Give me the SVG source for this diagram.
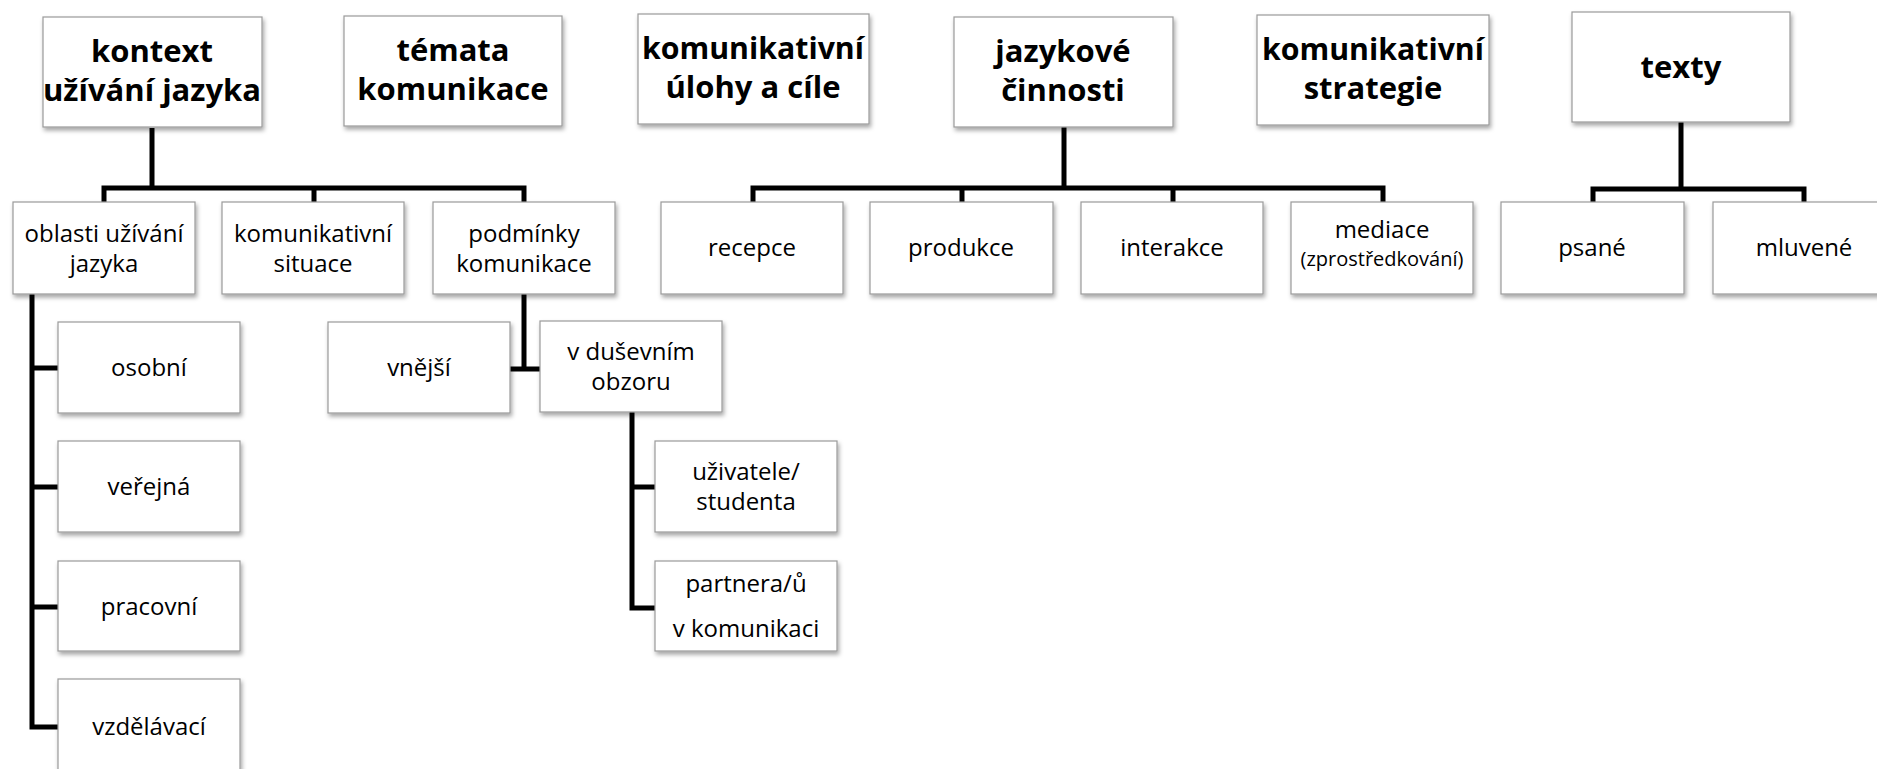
<svg xmlns="http://www.w3.org/2000/svg" width="1877" height="769" viewBox="0 0 1877 769">
<defs>
<filter id="sh" x="-10%" y="-10%" width="130%" height="140%">
<feDropShadow dx="1.5" dy="3" stdDeviation="2" flood-color="#000" flood-opacity="0.35"/>
</filter>
</defs>
<style>
.box{fill:#fff;stroke:#9a9a9a;stroke-width:1.2;filter:url(#sh)}
.h{font-family:"Open Sans","Noto Sans",sans-serif;font-weight:bold;font-size:31px;fill:#000;text-anchor:middle}
.t{font-family:"Open Sans","Noto Sans",sans-serif;font-size:24px;fill:#000;text-anchor:middle}
.s{font-family:"Open Sans","Noto Sans",sans-serif;font-size:20px;fill:#000;text-anchor:middle}
.c{fill:none;stroke:#000;stroke-width:5;stroke-linejoin:miter;stroke-linecap:butt}
</style>
<rect width="1877" height="769" fill="#fff"/>
<g id="connectors">
<path class="c" d="M152,128 V188 M104,204 V188 H524 V204 M314,188 V204"/>
<path class="c" d="M1064,127 V188 M753,204 V188 H1383 V204 M962,188 V204 M1173,188 V204"/>
<path class="c" d="M1681,122 V189 M1593,204 V189 H1804 V204"/>
<path class="c" d="M32,294 V727 H58 M32,368 H58 M32,487 H58 M32,607 H58"/>
<path class="c" d="M524,294 V369 M510,369 H540"/>
<path class="c" d="M632,412 V608 H655 M632,487 H655"/>
</g>
<g id="n-kontext"><rect class="box" x="43" y="17" width="219" height="110"/><text class="h" x="152" y="62">kontext</text><text class="h" x="152" y="101">užívání jazyka</text></g>
<g id="n-temata"><rect class="box" x="344" y="16" width="218" height="110"/><text class="h" x="453" y="61">témata</text><text class="h" x="453" y="100">komunikace</text></g>
<g id="n-ulohy"><rect class="box" x="638" y="14" width="231" height="110"/><text class="h" x="753" y="59" textLength="222" lengthAdjust="spacingAndGlyphs">komunikativní</text><text class="h" x="753" y="98">úlohy a cíle</text></g>
<g id="n-cinnosti"><rect class="box" x="954" y="17" width="219" height="110"/><text class="h" x="1063" y="62">jazykové</text><text class="h" x="1063" y="101">činnosti</text></g>
<g id="n-strategie"><rect class="box" x="1257" y="15" width="232" height="110"/><text class="h" x="1373" y="60" textLength="222" lengthAdjust="spacingAndGlyphs">komunikativní</text><text class="h" x="1373" y="99">strategie</text></g>
<g id="n-texty"><rect class="box" x="1572" y="12" width="218" height="110"/><text class="h" x="1681" y="78">texty</text></g>
<g id="n-oblasti"><rect class="box" x="13" y="202" width="182" height="92"/><text class="t" x="104" y="242">oblasti užívání</text><text class="t" x="104" y="272">jazyka</text></g>
<g id="n-situace"><rect class="box" x="222" y="202" width="182" height="92"/><text class="t" x="313" y="242">komunikativní</text><text class="t" x="313" y="272">situace</text></g>
<g id="n-podminky"><rect class="box" x="433" y="202" width="182" height="92"/><text class="t" x="524" y="242">podmínky</text><text class="t" x="524" y="272">komunikace</text></g>
<g id="n-recepce"><rect class="box" x="661" y="202" width="182" height="92"/><text class="t" x="752" y="256">recepce</text></g>
<g id="n-produkce"><rect class="box" x="870" y="202" width="183" height="92"/><text class="t" x="961" y="256">produkce</text></g>
<g id="n-interakce"><rect class="box" x="1081" y="202" width="182" height="92"/><text class="t" x="1172" y="256">interakce</text></g>
<g id="n-mediace"><rect class="box" x="1291" y="202" width="182" height="92"/><text class="t" x="1382" y="238">mediace</text><text class="s" x="1382" y="266">(zprostředkování)</text></g>
<g id="n-psane"><rect class="box" x="1501" y="202" width="183" height="92"/><text class="t" x="1592" y="256">psané</text></g>
<g id="n-mluvene"><rect class="box" x="1713" y="202" width="183" height="92"/><text class="t" x="1804" y="256">mluvené</text></g>
<g id="n-osobni"><rect class="box" x="58" y="322" width="182" height="91"/><text class="t" x="149" y="376">osobní</text></g>
<g id="n-verejna"><rect class="box" x="58" y="441" width="182" height="91"/><text class="t" x="149" y="495">veřejná</text></g>
<g id="n-pracovni"><rect class="box" x="58" y="561" width="182" height="90"/><text class="t" x="149" y="615">pracovní</text></g>
<g id="n-vzdelavaci"><rect class="box" x="58" y="679" width="182" height="91"/><text class="t" x="149" y="735">vzdělávací</text></g>
<g id="n-vnejsi"><rect class="box" x="328" y="322" width="182" height="91"/><text class="t" x="419" y="376">vnější</text></g>
<g id="n-dusevni"><rect class="box" x="540" y="321" width="182" height="91"/><text class="t" x="631" y="360">v duševním</text><text class="t" x="631" y="390">obzoru</text></g>
<g id="n-uzivatele"><rect class="box" x="655" y="441" width="182" height="91"/><text class="t" x="746" y="480">uživatele/</text><text class="t" x="746" y="510">studenta</text></g>
<g id="n-partnera"><rect class="box" x="655" y="561" width="182" height="90"/><text class="t" x="746" y="592">partnera/ů</text><text class="t" x="746" y="637">v komunikaci</text></g>
</svg>
